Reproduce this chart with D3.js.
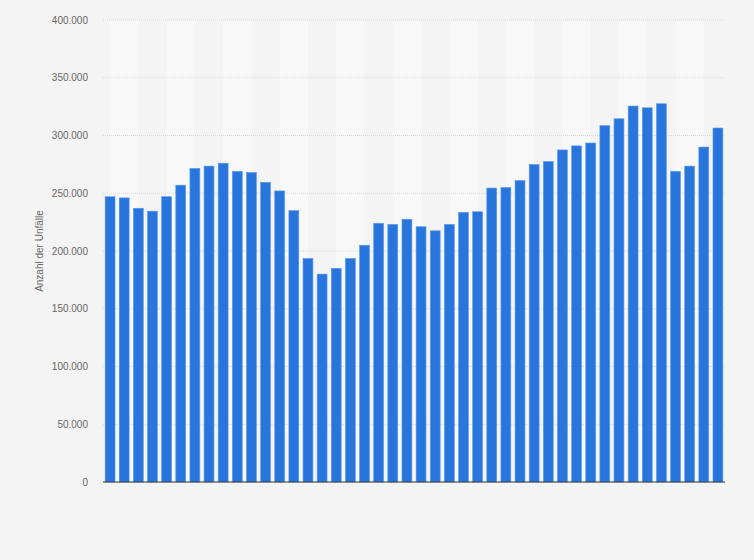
<!DOCTYPE html>
<html>
<head>
<meta charset="utf-8">
<script src="https://cdn.jsdelivr.net/npm/d3@7"></script>
<style>
  body { margin: 0; background: #f4f4f4; }
  svg { display: block; font-family: "Liberation Sans", Arial, sans-serif; }
</style>
</head>
<body>
<div id="chart"></div>
<script>
//------------------------------------------------------------------------ Data
var years = [1975, 1976, 1977, 1978, 1979, 1980, 1981, 1982, 1983, 1984, 1985,
             1986, 1987, 1988, 1989, 1990, 1991, 1992, 1993, 1994, 1995, 1996,
             1997, 1998, 1999, 2000, 2001, 2002, 2003, 2004, 2005, 2006, 2007,
             2008, 2009, 2010, 2011, 2012, 2013, 2014, 2015, 2016, 2017, 2018];

var unfaelle = [247000, 246000, 237000, 234500, 247000, 257000, 271500, 273500, 276000, 269000, 268000,
                259500, 252000, 235000, 193500, 180000, 185000, 193500, 205000, 224000, 223000, 227500,
                221000, 217500, 223000, 233500, 234000, 254500, 255000, 261000, 275000, 277500, 287500,
                291000, 293500, 308500, 314500, 325500, 324000, 327500, 269000, 273500, 290000, 306500];

var yTicks = [0, 50000, 100000, 150000, 200000, 250000, 300000, 350000, 400000];

//------------------------------------------------------------------------ Setup
var margin = {top: 20, right: 29, bottom: 79, left: 103},
    width = 754 - margin.left - margin.right,
    height = 561 - margin.top - margin.bottom;

var svg = d3.select("#chart").append("svg")
  .attr("width", 754)
  .attr("height", 560);

svg.append("rect").attr("width", 754).attr("height", 560).attr("fill", "#f4f4f4");

var g = svg.append("g").attr("transform", "translate(" + margin.left + "," + margin.top + ")");

var x = d3.scaleBand().domain(years).range([0, width]).paddingInner(0.3).paddingOuter(0.15);
var y = d3.scaleLinear().domain([0, 400000]).range([height, 0]);

var fmt = function(v){ return d3.format(",")(v).replace(/,/g, "."); };

//alternating background bands (two bars wide)
var bandYears = years.filter(function(d, i){ return i % 4 === 0; });
g.selectAll(".band").data(bandYears).enter().append("rect")
  .attr("x", function(d){ return x(d) + x.bandwidth()/2; })
  .attr("y", 0)
  .attr("width", x.step()*2)
  .attr("height", height)
  .attr("fill", "#f8f8f8");

//grid lines
g.selectAll(".grid").data(yTicks.slice(1)).enter().append("line")
  .attr("x1", 0).attr("x2", width)
  .attr("y1", function(d){ return y(d); })
  .attr("y2", function(d){ return y(d); })
  .attr("stroke", "#d6d6d6")
  .attr("stroke-dasharray", "1,1");

//y axis labels
var yAxis = d3.axisLeft(y).tickValues(yTicks).tickFormat(fmt).tickSize(0).tickPadding(15);
g.append("g").call(yAxis)
  .call(function(a){ a.select(".domain").remove(); })
  .selectAll("text")
  .attr("fill", "#666")
  .attr("font-size", "10px")
  .attr("font-family", "Liberation Sans, Arial, sans-serif");

//bars
g.selectAll(".bar").data(unfaelle).enter().append("rect")
  .attr("x", function(d, i){ return x(years[i]); })
  .attr("y", function(d){ return y(d); })
  .attr("width", x.bandwidth())
  .attr("height", function(d){ return height - y(d); })
  .attr("fill", "#2876dd")
  .attr("stroke", "#5d9ae6")
  .attr("stroke-width", 0.6);

//baseline
g.append("line")
  .attr("x1", 0).attr("x2", width)
  .attr("y1", height).attr("y2", height)
  .attr("stroke", "#333").attr("stroke-width", 1.2);

//y axis title
svg.append("text")
  .attr("transform", "translate(43," + (margin.top + height/2) + ") rotate(-90)")
  .attr("text-anchor", "middle")
  .attr("font-size", "10px")
  .attr("fill", "#666")
  .text("Anzahl der Unfälle");
</script>
</body>
</html>
